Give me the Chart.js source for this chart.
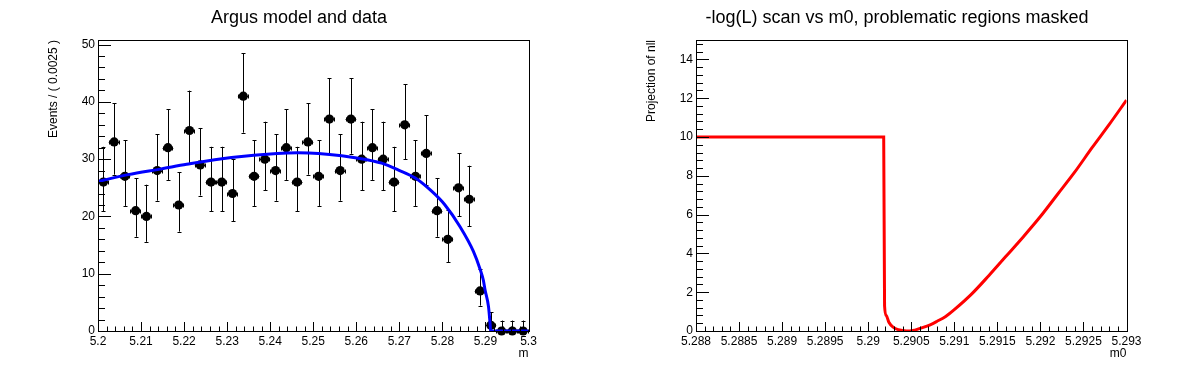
<!DOCTYPE html>
<html>
<head>
<meta charset="utf-8">
<script src="https://cdn.jsdelivr.net/npm/chart.js@4/dist/chart.umd.min.js"></script>
<style>
  body { margin: 0; background: #fff; }
  .row { display: flex; width: 1196px; height: 372px; }
  canvas { display: block; }
</style>
</head>
<body>
<div class="row">
  <canvas id="argus" width="598" height="372"></canvas>
  <canvas id="scan" width="598" height="372"></canvas>
</div>
<script>
'use strict'

const FONT = '"Liberation Sans", Arial, Helvetica, sans-serif'

// left pad: binned data (bin width 0.0025)
const binCenters = [
    5.20125, 5.20375, 5.20625, 5.20875, 5.21125, 5.21375, 5.21625, 5.21875,
    5.22125, 5.22375, 5.22625, 5.22875, 5.23125, 5.23375, 5.23625, 5.23875,
    5.24125, 5.24375, 5.24625, 5.24875, 5.25125, 5.25375, 5.25625, 5.25875,
    5.26125, 5.26375, 5.26625, 5.26875, 5.27125, 5.27375, 5.27625, 5.27875,
    5.28125, 5.28375, 5.28625, 5.28875, 5.29125, 5.29375, 5.29625, 5.29875
]
const counts = [
    26, 33, 27, 21, 20, 28, 32, 22, 35, 29, 26, 26, 24, 41, 27, 30,
    28, 32, 26, 33, 27, 37, 28, 37, 30, 32, 30, 26, 36, 27, 31, 21,
    16, 25, 23, 7, 1, 0, 0, 0
]
const binHalf = 0.00125

// argus model curve
const argusM = [5.2, 5.207, 5.2147, 5.2206, 5.231, 5.2416, 5.2465, 5.2512, 5.2566, 5.2625,
    5.2659, 5.2698, 5.2737, 5.2775, 5.2806, 5.2841, 5.2872, 5.2888, 5.2895, 5.2899, 5.2907,
    5.29105, 5.2912, 5.3]
const argusY = [26.1, 27.3, 28.3, 29.1, 30.3, 31.0, 31.1, 31.0, 30.6, 29.9,
    29.3, 28.1, 26.7, 24.4, 22.0, 18.2, 13.9, 10.7, 8.9, 7.2, 4.3,
    1.5, 0, 0]

// right pad: nll scan over m0
const scanM = [5.288, 5.29018, 5.29019, 5.29021, 5.29024, 5.29029, 5.29035, 5.29042, 5.29048,
    5.29055, 5.29063, 5.29072, 5.2908, 5.2909, 5.291, 5.2912, 5.2914, 5.2916, 5.2918,
    5.292, 5.2922, 5.2924, 5.2926, 5.2928, 5.293]
const scanNll = [10, 10, 1.3, 0.8, 0.45, 0.2, 0.07, 0.01, 0,
    0.06, 0.17, 0.32, 0.5, 0.75, 1.1, 1.9, 2.85, 3.85, 4.85,
    5.9, 7.05, 8.2, 9.45, 10.65, 11.9]

// poisson (garwood) interval, wilson-hilferty approx
const poissonLo = n => n === 0 ? 0 : n * Math.pow(1 - 1 / (9 * n) - 1 / (3 * Math.sqrt(n)), 3)
const poissonHi = n => (n + 1) * Math.pow(1 - 1 / (9 * (n + 1)) + 1 / (3 * Math.sqrt(n + 1)), 3)

const fmt = v => String(+v.toFixed(5))

// frame, inside ticks and titles like a ROOT canvas
const rootFrame = {
    id: 'rootFrame',
    afterDraw(chart, args, opts) {
        const { ctx, chartArea: a, scales: { x, y } } = chart
        ctx.save()
        ctx.strokeStyle = '#000'
        ctx.lineWidth = 1

        const drawTicks = (scale, minor, majLen, minLen, horiz) => {
            const majors = scale.ticks.map(t => t.value)
            const k0 = Math.ceil(scale.min / minor - 1e-6)
            const k1 = Math.floor(scale.max / minor + 1e-6)
            ctx.beginPath()
            for (let k = k0; k <= k1; k++) {
                const v = k * minor
                const isMajor = majors.some(m => Math.abs(m - v) < minor / 10)
                const len = isMajor ? majLen : minLen
                const p = Math.round(scale.getPixelForValue(v)) + 0.5
                if (horiz) {
                    ctx.moveTo(p, a.bottom)
                    ctx.lineTo(p, a.bottom - len)
                } else {
                    ctx.moveTo(a.left, p)
                    ctx.lineTo(a.left + len, p)
                }
            }
            ctx.stroke()
        }
        drawTicks(x, opts.xMinor, 9, 4.5, true)
        drawTicks(y, opts.yMinor, 13, 7, false)

        ctx.strokeRect(Math.round(a.left) + 0.5, Math.round(a.top) + 0.5,
            Math.round(a.right - a.left), Math.round(a.bottom - a.top))

        ctx.fillStyle = '#000'
        ctx.font = '18px ' + FONT
        ctx.textAlign = 'center'
        ctx.textBaseline = 'alphabetic'
        ctx.fillText(opts.title, chart.width / 2, 23)

        ctx.font = '12px ' + FONT
        ctx.textAlign = 'right'
        ctx.fillText(opts.xTitle, a.right, 357)

        ctx.translate(57, a.top)
        ctx.rotate(-Math.PI / 2)
        ctx.fillText(opts.yTitle, 0, 0)
        ctx.restore()
    }
}

// error bars under the markers
const errorBars = {
    id: 'errorBars',
    beforeDatasetsDraw(chart, args, opts) {
        if (!opts.show) return
        const { ctx, scales: { x, y } } = chart
        ctx.save()
        ctx.strokeStyle = '#000'
        ctx.lineWidth = 1
        ctx.beginPath()
        binCenters.forEach((c, i) => {
            const n = counts[i]
            const px = Math.round(x.getPixelForValue(c)) + 0.5
            const py = Math.round(y.getPixelForValue(n)) + 0.5
            const lo = y.getPixelForValue(poissonLo(n))
            const hi = y.getPixelForValue(poissonHi(n))
            ctx.moveTo(px, lo); ctx.lineTo(px, hi)
            ctx.moveTo(px - 2, Math.round(hi) + 0.5); ctx.lineTo(px + 2, Math.round(hi) + 0.5)
            if (n > 0) {
                ctx.moveTo(px - 2, Math.round(lo) + 0.5); ctx.lineTo(px + 2, Math.round(lo) + 0.5)
            }
            const xl = x.getPixelForValue(c - binHalf)
            const xr = x.getPixelForValue(c + binHalf)
            ctx.moveTo(xl, py); ctx.lineTo(xr, py)
            ctx.moveTo(Math.round(xl) + 0.5, py - 2); ctx.lineTo(Math.round(xl) + 0.5, py + 2)
            ctx.moveTo(Math.round(xr) - 0.5, py - 2); ctx.lineTo(Math.round(xr) - 0.5, py + 2)
        })
        ctx.stroke()
        ctx.restore()
    }
}

const tickFont = { family: FONT, size: 12 }

const baseOptions = (xr, yr, frame) => ({
    responsive: false,
    animation: false,
    events: [],
    devicePixelRatio: 1,
    layout: { padding: { left: 0, top: 40, right: 69.5, bottom: 0 } },
    plugins: {
        legend: { display: false },
        tooltip: { enabled: false },
        rootFrame: frame,
        errorBars: { show: frame.bars }
    },
    scales: {
        x: {
            type: 'linear',
            min: xr.min, max: xr.max,
            grid: { display: false, drawTicks: false },
            border: { display: false },
            afterFit: s => { s.height = 41 },
            ticks: {
                stepSize: xr.step, includeBounds: false, autoSkip: false, maxRotation: 0,
                padding: 3, color: '#000', font: tickFont, callback: fmt
            }
        },
        y: {
            type: 'linear',
            min: yr.min, max: yr.max,
            grid: { display: false, drawTicks: false },
            border: { display: false },
            afterFit: s => { s.width = 98 },
            ticks: {
                stepSize: yr.step, includeBounds: false, autoSkip: false,
                padding: 3, color: '#000', font: tickFont, callback: fmt
            }
        }
    }
})

new Chart(document.querySelector('#argus').getContext('2d'), {
    type: 'scatter',
    data: {
        datasets: [{
            type: 'line',
            data: argusM.map((m, i) => ({ x: m, y: argusY[i] })),
            borderColor: '#0000ff',
            borderWidth: 3,
            pointRadius: 0,
            cubicInterpolationMode: 'monotone',
            order: 0
        }, {
            type: 'scatter',
            data: binCenters.map((c, i) => ({ x: c, y: counts[i] })),
            pointRadius: 4.6,
            pointBackgroundColor: '#000',
            pointBorderWidth: 0,
            clip: false,
            order: 1
        }]
    },
    options: baseOptions(
        { min: 5.2, max: 5.3, step: 0.01 },
        { min: 0, max: 50.8, step: 10 },
        { title: 'Argus model and data', xTitle: 'm', yTitle: 'Events / ( 0.0025 )', xMinor: 0.002, yMinor: 2, bars: true }
    ),
    plugins: [rootFrame, errorBars]
})

new Chart(document.querySelector('#scan').getContext('2d'), {
    type: 'scatter',
    data: {
        datasets: [{
            type: 'line',
            data: scanM.map((m, i) => ({ x: m, y: scanNll[i] })),
            borderColor: '#ff0000',
            borderWidth: 3,
            pointRadius: 0,
            cubicInterpolationMode: 'monotone'
        }]
    },
    options: baseOptions(
        { min: 5.288, max: 5.293, step: 0.0005 },
        { min: 0, max: 15, step: 2 },
        { title: '-log(L) scan vs m0, problematic regions masked', xTitle: 'm0', yTitle: 'Projection of nll', xMinor: 0.0001, yMinor: 0.4, bars: false }
    ),
    plugins: [rootFrame, errorBars]
})
</script>
</body>
</html>
